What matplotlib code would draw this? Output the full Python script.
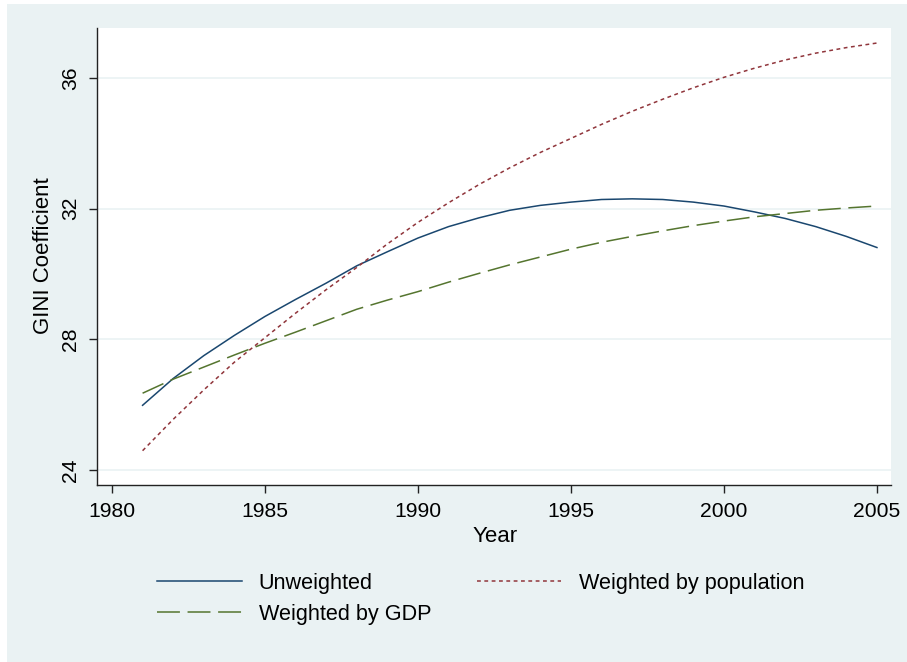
import numpy as np
import matplotlib
matplotlib.use("Agg")
import matplotlib.pyplot as plt
from matplotlib.patches import Rectangle

plt.rcParams['font.family'] = ['Liberation Sans', 'DejaVu Sans']

# ---- data ----
years = list(range(1981, 2006))
unweighted = [25.98, 26.80, 27.50, 28.12, 28.70, 29.22, 29.72, 30.25, 30.68, 31.10,
              31.45, 31.72, 31.95, 32.10, 32.20, 32.28, 32.30, 32.28, 32.20, 32.08,
              31.90, 31.70, 31.45, 31.15, 30.81]
by_population = [24.59, 25.55, 26.45, 27.30, 28.05, 28.80, 29.52, 30.20, 30.92, 31.58,
                 32.18, 32.74, 33.25, 33.72, 34.15, 34.58, 34.98, 35.35, 35.70, 36.02,
                 36.30, 36.55, 36.76, 36.93, 37.07]
by_gdp = [26.35, 26.78, 27.15, 27.52, 27.88, 28.22, 28.57, 28.92, 29.20, 29.46,
          29.75, 30.02, 30.28, 30.52, 30.76, 30.97, 31.15, 31.32, 31.48, 31.62,
          31.75, 31.85, 31.95, 32.02, 32.08]
xticks = [1980, 1985, 1990, 1995, 2000, 2005]
yticks = [24, 28, 32, 36]

bg = "#EAF2F3"
navy = "#1A476F"
maroon = "#90353B"
green = "#55752F"
fsize = 15.2     # tick labels
fsize_t = 16     # axis titles
fsize_l = 15.6   # legend

W, H = 907, 662
fig = plt.figure(figsize=(W / 100, H / 100), dpi=100)
fig.patch.set_facecolor("white")
fig.patches.append(Rectangle((7 / W, 0), 1 - 7 / W, 1 - 4 / H, transform=fig.transFigure,
                             facecolor=bg, edgecolor="none", zorder=-10))

ax = fig.add_axes([97 / W, 1 - 485 / H, (891 - 97) / W, (485 - 28) / H])
ax.set_facecolor("white")

ax.plot(years, unweighted, color=navy, linewidth=1.1, label="Unweighted")
ax.plot(years, by_gdp, color=green, linewidth=1.1, dashes=(15, 5), label="Weighted by GDP")
ax.plot(years, by_population, color=maroon, linewidth=1.1, dashes=(2.5, 2.3),
        label="Weighted by population")

ax.set_xlim(1979.51, 2005.46)
ax.set_ylim(23.54, 37.53)
ax.set_xticks(xticks)
ax.set_yticks(yticks)
ax.grid(axis="y", color=bg, linewidth=1.2)
ax.set_axisbelow(True)

for s in ["top", "right"]:
    ax.spines[s].set_visible(False)
for s in ["left", "bottom"]:
    ax.spines[s].set_color("#222222")
    ax.spines[s].set_linewidth(1.0)

ax.tick_params(axis="both", direction="out", length=6, width=1.0, color="#222222",
               labelsize=fsize, pad=6)
for lab in ax.get_yticklabels():
    lab.set_rotation(90)
    lab.set_va("center")

fig.text(44 / W, 1 - 256 / H, "GINI Coefficient", rotation=90, ha="center", va="center",
         fontsize=fsize_t)
fig.text(495 / W, 1 - 542 / H, "Year", ha="center", va="baseline", fontsize=fsize_t)

leg = fig.legend(loc="upper left", bbox_to_anchor=(157 / W, 1 - 573 / H), ncol=2,
                 frameon=False, fontsize=fsize_l, handlelength=3.9, handletextpad=0.8,
                 columnspacing=2.1, labelspacing=0.45, borderpad=0, borderaxespad=0)

fig.savefig("out.png", dpi=100, facecolor=fig.get_facecolor())
